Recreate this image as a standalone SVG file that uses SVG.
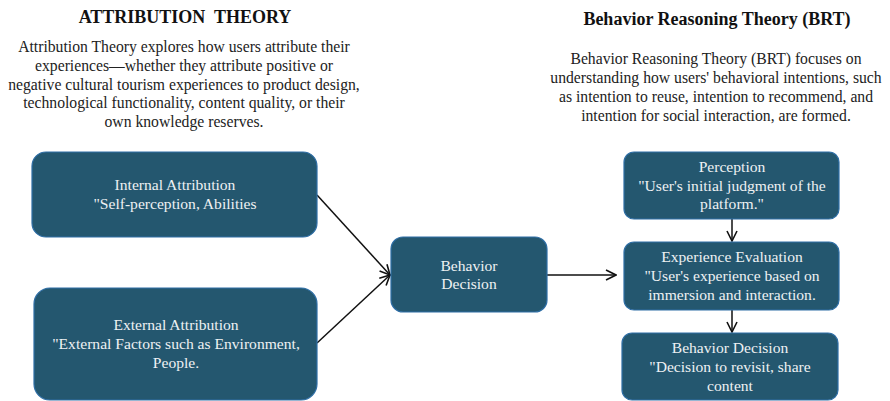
<svg xmlns="http://www.w3.org/2000/svg" width="890" height="401" viewBox="0 0 890 401">
<defs>
<style>
.t{font-family:"Liberation Serif","Times New Roman",serif;font-size:15.7px;fill:#222;text-anchor:middle}
.h{font-family:"Liberation Serif","Times New Roman",serif;font-weight:bold;font-size:18px;fill:#111;text-anchor:middle}
.n{fill:#24576f;stroke:#2e6ea6;stroke-width:1.2}
.nt{font-family:"Liberation Serif","Times New Roman",serif;font-size:15.6px;fill:#eef1f3;text-anchor:middle}
.c{stroke:#111;stroke-width:1.5;fill:none}
</style>
<marker id="ah" viewBox="0 0 12 12" refX="11" refY="6" markerWidth="12" markerHeight="12" markerUnits="userSpaceOnUse" orient="auto">
<path d="M1,1 L11,6 L1,11" fill="none" stroke="#111" stroke-width="1.6"/>
</marker>
</defs>
<rect width="890" height="401" fill="#fff"/>
<g id="header-left">
<text class="h" x="185" y="23" xml:space="preserve">ATTRIBUTION  THEORY</text>
<text class="t" x="184" y="52">Attribution Theory explores how users attribute their</text>
<text class="t" x="184" y="71">experiences—whether they attribute positive or</text>
<text class="t" x="184" y="90">negative cultural tourism experiences to product design,</text>
<text class="t" x="184" y="108">technological functionality, content quality, or their</text>
<text class="t" x="184" y="127">own knowledge reserves.</text>
</g>
<g id="header-right">
<text class="h" x="717" y="25">Behavior Reasoning Theory (BRT)</text>
<text class="t" x="716" y="64">Behavior Reasoning Theory (BRT) focuses on</text>
<text class="t" x="716" y="83">understanding how users' behavioral intentions, such</text>
<text class="t" x="716" y="102">as intention to reuse, intention to recommend, and</text>
<text class="t" x="716" y="121">intention for social interaction, are formed.</text>
</g>
<g id="connectors">
<line class="c" x1="317" y1="195" x2="390" y2="275" marker-end="url(#ah)"/>
<line class="c" x1="317" y1="343" x2="390" y2="275" marker-end="url(#ah)"/>
<line class="c" x1="547" y1="275" x2="616" y2="275" marker-end="url(#ah)"/>
<line class="c" x1="732" y1="219" x2="732" y2="241" marker-end="url(#ah)"/>
<line class="c" x1="732" y1="310" x2="732" y2="332" marker-end="url(#ah)"/>
</g>
<g id="internal">
<rect class="n" x="32" y="152" width="285" height="85" rx="14"/>
<text class="nt" x="175" y="190">Internal Attribution</text>
<text class="nt" x="175" y="209">"Self-perception, Abilities</text>
</g>
<g id="external">
<rect class="n" x="34" y="288" width="283" height="112" rx="16"/>
<text class="nt" x="176" y="330">External Attribution</text>
<text class="nt" x="176" y="349">"External Factors such as Environment,</text>
<text class="nt" x="176" y="368">People.</text>
</g>
<g id="decision">
<rect class="n" x="391" y="237" width="156" height="75" rx="12"/>
<text class="nt" x="469" y="271">Behavior</text>
<text class="nt" x="469" y="289">Decision</text>
</g>
<g id="perception">
<rect class="n" x="624" y="152" width="215" height="67" rx="10"/>
<text class="nt" x="732" y="172">Perception</text>
<text class="nt" x="732" y="191">"User's initial judgment of the</text>
<text class="nt" x="732" y="209">platform."</text>
</g>
<g id="experience">
<rect class="n" x="624" y="242" width="215" height="68" rx="10"/>
<text class="nt" x="732" y="262">Experience Evaluation</text>
<text class="nt" x="732" y="281">"User's experience based on</text>
<text class="nt" x="732" y="300">immersion and interaction.</text>
</g>
<g id="behavior-decision">
<rect class="n" x="622" y="333" width="216" height="67" rx="10"/>
<text class="nt" x="730" y="353">Behavior Decision</text>
<text class="nt" x="730" y="372">"Decision to revisit, share</text>
<text class="nt" x="730" y="391">content</text>
</g>
</svg>
